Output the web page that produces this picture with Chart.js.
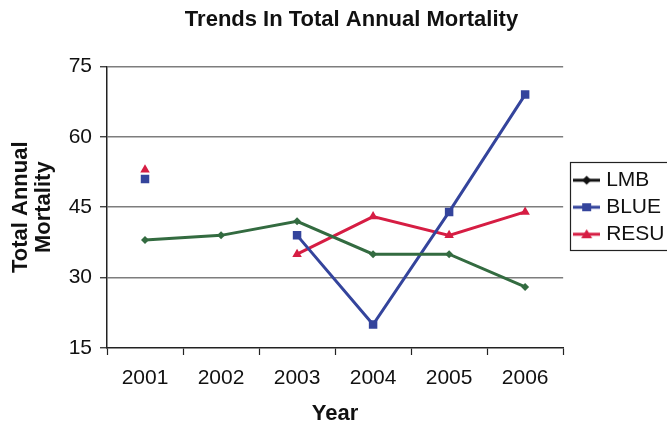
<!DOCTYPE html>
<html>
<head>
<meta charset="utf-8">
<script src="https://cdn.jsdelivr.net/npm/chart.js@4/dist/chart.umd.min.js"></script>
<style>
  html, body { margin: 0; padding: 0; background: #fff; }
  #wrap { width: 667px; height: 427px; }
</style>
</head>
<body>
<div id="wrap"><canvas id="c" width="667" height="427"></canvas></div>
<script>
// Annual mortality by site, 2001-2006 (no survey for BLUE/RESU in 2002)
const years = ['2001', '2002', '2003', '2004', '2005', '2006'];
const lmb  = [38, 39, 42, 35, 35, 28];
const blue = [51, null, 39, 20, 44, 69];
const resu = [53, null, 35, 43, 39, 44];
const yTicks = [15, 30, 45, 60, 75];

const FONT = "'Liberation Sans', Arial, sans-serif";

// Legend swatch: short line with the series marker in the middle
function swatch(color, shape) {
  const cv = document.createElement('canvas');
  cv.width = 27; cv.height = 12;
  const g = cv.getContext('2d');
  g.strokeStyle = color; g.fillStyle = color; g.lineWidth = 3;
  g.beginPath(); g.moveTo(0, 6); g.lineTo(27, 6); g.stroke();
  g.beginPath();
  if (shape === 'rect') { g.rect(9, 2, 9, 8); }
  else if (shape === 'triangle') { g.moveTo(13.5, 1); g.lineTo(19, 10); g.lineTo(8, 10); g.closePath(); }
  else { g.moveTo(13.5, 1.5); g.lineTo(18, 6); g.lineTo(13.5, 10.5); g.lineTo(9, 6); g.closePath(); }
  g.fill();
  return cv;
}

const series = [
  { label: 'LMB',  data: lmb,  color: '#336b40', legendColor: '#111111', shape: 'rectRot', radius: 4 },
  { label: 'BLUE', data: blue, color: '#34449c', legendColor: '#34449c', shape: 'rect', radius: 6 },
  { label: 'RESU', data: resu, color: '#d61d43', legendColor: '#d61d43', shape: 'triangle', radius: 5.5 }
];

const boxTweaks = {
  id: 'boxTweaks',
  afterLayout(chart) {
    const lg = chart.legend, a = chart.chartArea, t = chart.titleBlock;
    // legend sits just right of the plot, vertically centred on it
    lg.top = a.top; lg.bottom = a.bottom;
    lg.left = a.right + 8.5;
    // title centred over plot + legend block
    t.left = 36; t.right = chart.width;
  },
  afterDraw(chart) {
    const lg = chart.legend, a = chart.chartArea, ctx = chart.ctx;
    const mid = (a.top + a.bottom) / 2;
    ctx.save();
    ctx.strokeStyle = '#222'; ctx.lineWidth = 1.2;
    ctx.strokeRect(Math.round(lg.left) - 1.5, Math.round(mid - 45) + 0.5, 120, 88);
    ctx.restore();
  }
};

new Chart(document.getElementById('c'), {
  type: 'line',
  data: {
    labels: years,
    datasets: series.map(s => ({
      label: s.label,
      data: s.data,
      borderColor: s.color,
      backgroundColor: s.color,
      borderWidth: 3,
      pointStyle: s.shape,
      pointRadius: s.radius,
      pointBorderWidth: 0,
      spanGaps: false,
      tension: 0,
      legendSwatch: swatch(s.legendColor, s.shape)
    }))
  },
  options: {
    responsive: false,
    animation: false,
    layout: { padding: { top: 0, left: 0, right: 1, bottom: 0 } },
    plugins: {
      title: {
        display: true,
        text: 'Trends In Total Annual Mortality',
        color: '#111',
        font: { family: FONT, size: 22, weight: 'bold' },
        padding: { top: 7, bottom: 33 }
      },
      legend: {
        position: 'right',
        align: 'center',
        labels: {
          usePointStyle: true,
          pointStyleWidth: 18,
          boxHeight: 12,
          padding: 6,
          color: '#111',
          font: { family: FONT, size: 21 },
          generateLabels(chart) {
            return chart.data.datasets.map((d, i) => ({
              text: d.label,
              pointStyle: d.legendSwatch,
              fillStyle: d.borderColor,
              strokeStyle: d.borderColor,
              lineWidth: 0,
              fontColor: '#111',
              hidden: false,
              datasetIndex: i
            }));
          }
        }
      },
      tooltip: { enabled: false }
    },
    scales: {
      x: {
        offset: true,
        grid: { display: true, drawOnChartArea: false, offset: true, tickLength: 7, tickColor: '#222', tickWidth: 1.2 },
        border: { color: '#222', width: 1.5 },
        ticks: { color: '#111', font: { family: FONT, size: 21 }, padding: 11 },
        title: { display: true, text: 'Year', color: '#111', font: { family: FONT, size: 22, weight: 'bold' }, padding: { top: 0, bottom: 0 } },
        afterFit(s) { s.height = 79; }
      },
      y: {
        min: 15, max: 75,
        afterBuildTicks(s) { s.ticks = yTicks.map(v => ({ value: v })); },
        grid: {
          color: ctx => (ctx.tick && ctx.tick.value === 15 ? 'rgba(0,0,0,0)' : '#7d7d7d'),
          lineWidth: 1.5,
          tickLength: 7, tickColor: '#222', tickWidth: 1.2
        },
        border: { color: '#222', width: 1.5 },
        ticks: { color: '#111', font: { family: FONT, size: 21 }, padding: 8 },
        title: { display: true, text: ['Total Annual', 'Mortality'], color: '#111', font: { family: FONT, size: 22, weight: 'bold', lineHeight: 1.05 }, padding: { top: 9.5, bottom: 0 } },
        afterFit(s) { s.width = 107; }
      }
    }
  },
  plugins: [boxTweaks]
});
</script>
</body>
</html>
